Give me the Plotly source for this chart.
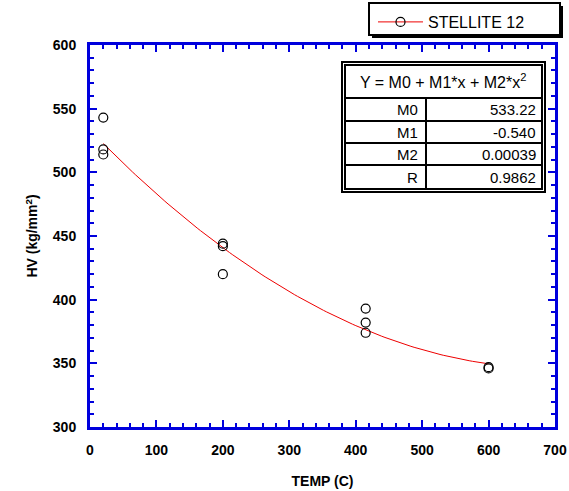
import numpy as np
import plotly.graph_objects as go

# ---------------- data ----------------
temp_c = [20, 20, 20, 200, 200, 200, 415, 415, 415, 600, 600]
hv = [543, 518, 514, 444, 442, 420, 393, 382, 374, 347, 346]

fit_labels = ["M0", "M1", "M2", "R"]
fit_values = [533.22, -0.540, 0.00039, 0.9862]
fit_texts = ["533.22", "-0.540", "0.00039", "0.9862"]
fit_header = "Y = M0 + M1*x + M2*x<sup>2</sup>"
series_name = "STELLITE 12"

x_ticks = [0, 100, 200, 300, 400, 500, 600, 700]
y_ticks = [300, 350, 400, 450, 500, 550, 600]

# regression curve from the chart's own coefficients
m0, m1, m2 = fit_values[0], fit_values[1], fit_values[2]
fit_x = np.linspace(min(temp_c), max(temp_c), 120)
fit_y = m0 + m1 * fit_x + m2 * fit_x ** 2

# ---------------- figure ----------------
W, H = 569, 491
L, R, T, B = 90, 14, 45, 64
PW, PH = W - L - R, H - T - B
BLUE = "#0000DD"
FONT = "Liberation Sans, Arial, sans-serif"


def px(x):
    return (x - L) / PW


def py(y):
    return (H - B - y) / PH


fig = go.Figure()
fig.add_trace(go.Scatter(x=fit_x, y=fit_y, mode="lines",
                         line=dict(color="#EE0000", width=1), showlegend=False,
                         hoverinfo="skip"))
fig.add_trace(go.Scatter(x=temp_c, y=hv, mode="markers",
                         marker=dict(symbol="circle-open", size=9, color="black",
                                     line=dict(width=1.2)),
                         showlegend=False))
fig.add_trace(go.Scatter(x=[None], y=[None], mode="lines+markers", name=series_name,
                         line=dict(color="#EE0000", width=1),
                         marker=dict(symbol="circle-open", size=9, color="black",
                                     line=dict(width=1.2))))

axis_common = dict(
    showline=True, linecolor=BLUE, linewidth=3, mirror="allticks",
    ticks="inside", ticklen=7, tickwidth=1.5, tickcolor=BLUE,
    showgrid=False, zeroline=False,
    tickfont=dict(family=FONT, size=14, color="black", weight="bold"),
    ticklabelstandoff=8,
)

fig.update_xaxes(range=[0, 700], tickvals=x_ticks,
                 minor=dict(ticks="inside", dtick=20, ticklen=4, tickwidth=1.5,
                            tickcolor=BLUE, showgrid=False),
                 title=dict(text="TEMP (C)", font=dict(family=FONT, size=14,
                                                       color="black", weight="bold"),
                            standoff=20),
                 **axis_common)
fig.update_yaxes(range=[300, 600], tickvals=y_ticks,
                 minor=dict(ticks="inside", dtick=10, ticklen=4, tickwidth=1.5,
                            tickcolor=BLUE, showgrid=False),
                 title=dict(text="HV (kg/mm<sup>2</sup>)",
                            font=dict(family=FONT, size=14, color="black", weight="bold"),
                            standoff=12),
                 **axis_common)

shapes = []
# legend frame with drop shadow
shapes.append(dict(type="rect", xref="paper", yref="paper",
                   x0=px(372), x1=px(563), y0=py(38), y1=py(6),
                   fillcolor="black", line=dict(width=0)))
shapes.append(dict(type="rect", xref="paper", yref="paper",
                   x0=px(369), x1=px(560), y0=py(35), y1=py(3),
                   fillcolor="white", line=dict(color="black", width=2)))
# table: double outer border
shapes.append(dict(type="rect", xref="paper", yref="paper",
                   x0=px(342), x1=px(545), y0=py(192), y1=py(62),
                   fillcolor="white", line=dict(color="black", width=2)))
shapes.append(dict(type="rect", xref="paper", yref="paper",
                   x0=px(345), x1=px(542), y0=py(189), y1=py(65),
                   line=dict(color="black", width=2)))
row_lines = [98, 121, 143, 165]
for yy in row_lines:
    shapes.append(dict(type="line", xref="paper", yref="paper",
                       x0=px(345), x1=px(542), y0=py(yy), y1=py(yy),
                       line=dict(color="black", width=2)))
shapes.append(dict(type="line", xref="paper", yref="paper",
                   x0=px(426), x1=px(426), y0=py(98), y1=py(189),
                   line=dict(color="black", width=2)))

annotations = [dict(text=fit_header, xref="paper", yref="paper",
                    x=px(443), y=py(81), xanchor="center", yanchor="middle",
                    showarrow=False, font=dict(family=FONT, size=16, color="black"))]
row_tops = [98, 121, 143, 165]
row_bots = [121, 143, 165, 189]
for lab, txt, t0, t1 in zip(fit_labels, fit_texts, row_tops, row_bots):
    yc = py((t0 + t1) / 2)
    annotations.append(dict(text=lab, xref="paper", yref="paper", x=px(420), y=yc,
                            xanchor="right", yanchor="middle", showarrow=False,
                            font=dict(family=FONT, size=15, color="black")))
    annotations.append(dict(text=txt, xref="paper", yref="paper", x=px(538), y=yc,
                            xanchor="right", yanchor="middle", showarrow=False,
                            font=dict(family=FONT, size=15, color="black")))

fig.update_layout(
    width=W, height=H,
    margin=dict(l=L, r=R, t=T, b=B, pad=0, autoexpand=False),
    paper_bgcolor="white", plot_bgcolor="white",
    shapes=shapes, annotations=annotations,
    showlegend=True,
    legend=dict(x=px(373), y=py(5), xanchor="left", yanchor="top",
                bgcolor="rgba(0,0,0,0)", borderwidth=0,
                font=dict(family=FONT, size=16, color="black"),
                itemwidth=45, tracegroupgap=0),
)

fig.write_html("out.html", config={"displayModeBar": False},
               post_script="document.body.style.margin='0px';document.body.style.overflow='hidden';")
